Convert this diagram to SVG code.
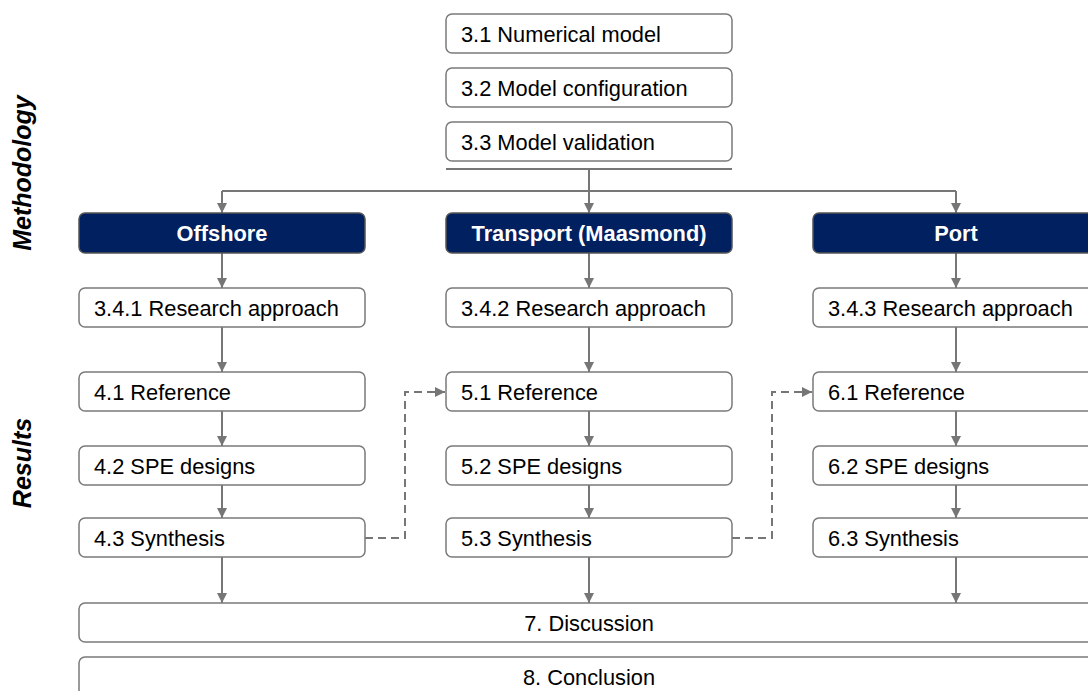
<svg xmlns="http://www.w3.org/2000/svg" width="1088" height="691" viewBox="0 0 1088 691">
<style>
.b{fill:#fff;stroke:#7a7a7a;stroke-width:1.5}
.h{fill:#002060;stroke:#555;stroke-width:1.5}
.t{font-family:"Liberation Sans",Arial,sans-serif;font-size:21.8px;fill:#000}
.ht{font-family:"Liberation Sans",Arial,sans-serif;font-size:21.8px;font-weight:bold;fill:#fff;text-anchor:middle}
.s{font-family:"Liberation Sans",Arial,sans-serif;font-size:25px;font-weight:bold;font-style:italic;fill:#000;text-anchor:middle}
.c{fill:none;stroke:#767676;stroke-width:2}
.d{fill:none;stroke:#767676;stroke-width:2;stroke-dasharray:8,5}
</style>
<defs>
<marker id="a" viewBox="0 0 10 10" refX="10" refY="5" markerWidth="5" markerHeight="5" orient="auto" markerUnits="strokeWidth">
<path d="M0,0 L10,5 L0,10 z" fill="#767676"/>
</marker>
</defs>
<text class="s" transform="translate(31,173) rotate(-90)">Methodology</text>
<text class="s" transform="translate(31,463) rotate(-90)">Results</text>
<g id="connectors">
<line class="c" x1="446" y1="169" x2="732" y2="169"/>
<line class="c" x1="222" y1="191" x2="956" y2="191"/>
<line class="c" x1="589" y1="169" x2="589" y2="213" marker-end="url(#a)"/>
<line class="c" x1="222" y1="191" x2="222" y2="213" marker-end="url(#a)"/>
<line class="c" x1="956" y1="191" x2="956" y2="213" marker-end="url(#a)"/>
<g id="col1">
<line class="c" x1="222" y1="253" x2="222" y2="288" marker-end="url(#a)"/>
<line class="c" x1="222" y1="327" x2="222" y2="372" marker-end="url(#a)"/>
<line class="c" x1="222" y1="411" x2="222" y2="446" marker-end="url(#a)"/>
<line class="c" x1="222" y1="485" x2="222" y2="518" marker-end="url(#a)"/>
<line class="c" x1="222" y1="557" x2="222" y2="603" marker-end="url(#a)"/>
</g>
<g id="col2">
<line class="c" x1="589" y1="253" x2="589" y2="288" marker-end="url(#a)"/>
<line class="c" x1="589" y1="327" x2="589" y2="372" marker-end="url(#a)"/>
<line class="c" x1="589" y1="411" x2="589" y2="446" marker-end="url(#a)"/>
<line class="c" x1="589" y1="485" x2="589" y2="518" marker-end="url(#a)"/>
<line class="c" x1="589" y1="557" x2="589" y2="603" marker-end="url(#a)"/>
</g>
<g id="col3">
<line class="c" x1="956" y1="253" x2="956" y2="288" marker-end="url(#a)"/>
<line class="c" x1="956" y1="327" x2="956" y2="372" marker-end="url(#a)"/>
<line class="c" x1="956" y1="411" x2="956" y2="446" marker-end="url(#a)"/>
<line class="c" x1="956" y1="485" x2="956" y2="518" marker-end="url(#a)"/>
<line class="c" x1="956" y1="557" x2="956" y2="603" marker-end="url(#a)"/>
</g>
<path class="d" d="M365,538 H405 V392 H445" marker-end="url(#a)"/>
<path class="d" d="M732,538 H772 V392 H812" marker-end="url(#a)"/>
</g>
<g id="n31"><rect class="b" x="446" y="14" width="286" height="39" rx="6"/><text class="t" x="461" y="42">3.1 Numerical model</text></g>
<g id="n32"><rect class="b" x="446" y="68" width="286" height="39" rx="6"/><text class="t" x="461" y="96">3.2 Model configuration</text></g>
<g id="n33"><rect class="b" x="446" y="122" width="286" height="39" rx="6"/><text class="t" x="461" y="150">3.3 Model validation</text></g>
<g id="offshore"><rect class="h" x="79" y="213" width="286" height="40" rx="6"/><text class="ht" x="222" y="241">Offshore</text></g>
<g id="transport"><rect class="h" x="446" y="213" width="286" height="40" rx="6"/><text class="ht" x="589" y="241">Transport (Maasmond)</text></g>
<g id="port"><rect class="h" x="813" y="213" width="286" height="40" rx="6"/><text class="ht" x="956" y="241">Port</text></g>
<g id="n341"><rect class="b" x="79" y="288" width="286" height="39" rx="6"/><text class="t" x="94" y="316">3.4.1 Research approach</text></g>
<g id="n342"><rect class="b" x="446" y="288" width="286" height="39" rx="6"/><text class="t" x="461" y="316">3.4.2 Research approach</text></g>
<g id="n343"><rect class="b" x="813" y="288" width="286" height="39" rx="6"/><text class="t" x="828" y="316">3.4.3 Research approach</text></g>
<g id="n41"><rect class="b" x="79" y="372" width="286" height="39" rx="6"/><text class="t" x="94" y="400">4.1 Reference</text></g>
<g id="n51"><rect class="b" x="446" y="372" width="286" height="39" rx="6"/><text class="t" x="461" y="400">5.1 Reference</text></g>
<g id="n61"><rect class="b" x="813" y="372" width="286" height="39" rx="6"/><text class="t" x="828" y="400">6.1 Reference</text></g>
<g id="n42"><rect class="b" x="79" y="446" width="286" height="39" rx="6"/><text class="t" x="94" y="474">4.2 SPE designs</text></g>
<g id="n52"><rect class="b" x="446" y="446" width="286" height="39" rx="6"/><text class="t" x="461" y="474">5.2 SPE designs</text></g>
<g id="n62"><rect class="b" x="813" y="446" width="286" height="39" rx="6"/><text class="t" x="828" y="474">6.2 SPE designs</text></g>
<g id="n43"><rect class="b" x="79" y="518" width="286" height="39" rx="6"/><text class="t" x="94" y="546">4.3 Synthesis</text></g>
<g id="n53"><rect class="b" x="446" y="518" width="286" height="39" rx="6"/><text class="t" x="461" y="546">5.3 Synthesis</text></g>
<g id="n63"><rect class="b" x="813" y="518" width="286" height="39" rx="6"/><text class="t" x="828" y="546">6.3 Synthesis</text></g>
<g id="n7"><rect class="b" x="79" y="603" width="1030" height="39" rx="6"/><text class="t" x="589" y="631" text-anchor="middle">7. Discussion</text></g>
<g id="n8"><rect class="b" x="79" y="657" width="1030" height="40" rx="6"/><text class="t" x="589" y="685" text-anchor="middle">8. Conclusion</text></g>
</svg>
